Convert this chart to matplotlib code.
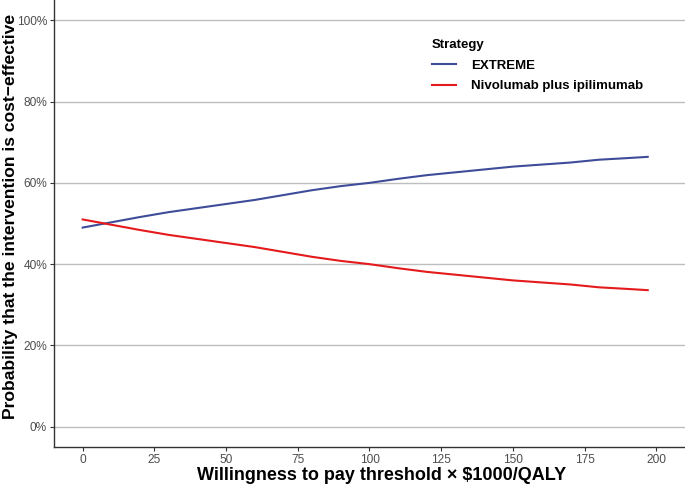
import matplotlib.pyplot as plt
from matplotlib.ticker import PercentFormatter

plt.rcParams['font.family'] = ['Liberation Sans', 'DejaVu Sans']

# willingness to pay ($1000/QALY)
wtp = [0, 10, 20, 30, 40, 50, 60, 70, 80, 90, 100, 110, 120, 130, 140, 150,
       160, 170, 180, 190, 197]
# probability cost-effective (%)
extreme = [49.0, 50.3, 51.6, 52.8, 53.8, 54.8, 55.8, 57.0, 58.2, 59.2, 60.0,
           61.0, 61.9, 62.6, 63.3, 64.0, 64.5, 65.0, 65.7, 66.1, 66.4]
nivo_ipi = [51.0, 49.7, 48.4, 47.2, 46.2, 45.2, 44.2, 43.0, 41.8, 40.8, 40.0,
            39.0, 38.1, 37.4, 36.7, 36.0, 35.5, 35.0, 34.3, 33.9, 33.6]

fig = plt.figure(figsize=(6.85, 4.86), dpi=100)
ax = fig.add_axes([0.0788, 0.0802, 0.9212, 0.9198])

ax.plot(wtp, extreme, color='#3F4C9A', lw=1.5, label='EXTREME')
ax.plot(wtp, nivo_ipi, color='#E41A1C', lw=1.5, label='Nivolumab plus ipilimumab')

ax.set_xlim(-10, 210)
ax.set_ylim(-5, 105)
ax.set_xticks(range(0, 201, 25))
ax.set_yticks(range(0, 101, 20))
ax.yaxis.set_major_formatter(PercentFormatter(decimals=0))
ax.grid(axis='y', color='#BEBEBE', lw=1)
ax.set_axisbelow(True)
for s in ['top', 'right']:
    ax.spines[s].set_visible(False)
for s in ['left', 'bottom']:
    ax.spines[s].set_color('#333333')
    ax.spines[s].set_linewidth(1)
ax.tick_params(labelsize=8.6, labelcolor='#4D4D4D', color='#333333', length=3, pad=2)

# axis titles placed in figure coords
fig.text(382 / 685, 1 - 480 / 486, 'Willingness to pay threshold × $1000/QALY',
         fontsize=13, fontweight='bold', ha='center', va='baseline')
fig.text(10.5 / 685, 1 - 216 / 486, 'Probability that the intervention is cost\u2212effective',
         fontsize=12.6, fontweight='bold', ha='center', va='center', rotation=90)

leg = ax.legend(title='Strategy', loc='upper left', bbox_to_anchor=(0.58, 0.94), frameon=False,
                prop={'weight': 'bold', 'size': 9.5}, handlelength=1.8, handletextpad=1.2,
                labelspacing=0.65)
leg.get_title().set_fontweight('bold')
leg.get_title().set_fontsize(9.5)
leg._legend_box.align = 'left'

fig.savefig('out.png', dpi=100)
